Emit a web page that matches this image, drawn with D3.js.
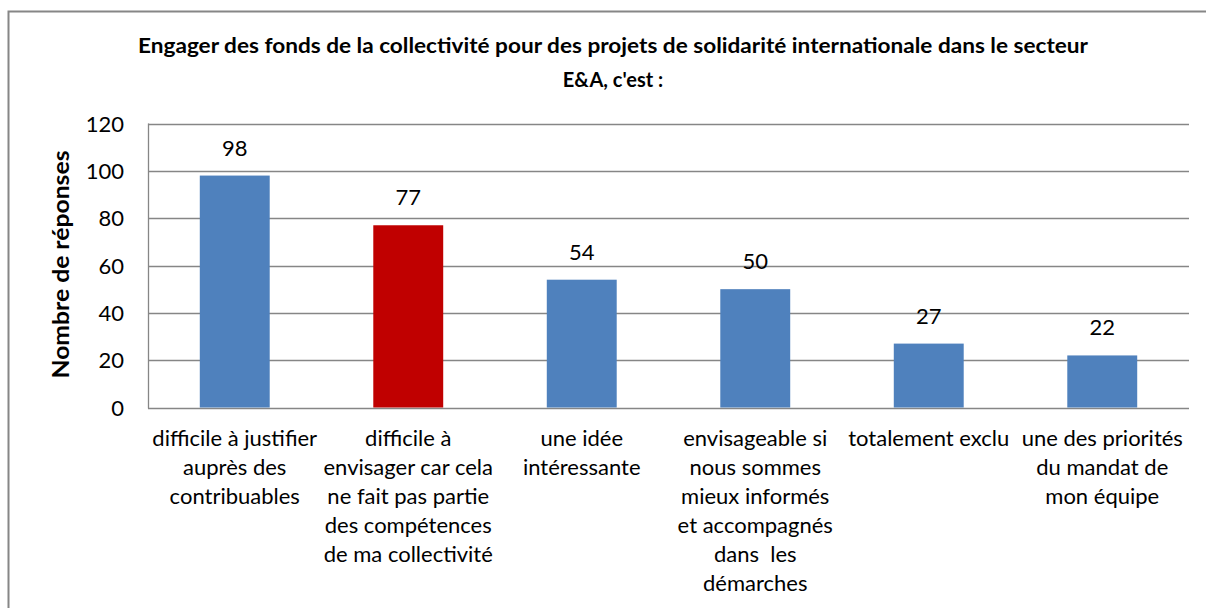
<!DOCTYPE html>
<html lang="fr">
<head>
<meta charset="UTF-8" />
<title>Engager des fonds</title>
<script src="https://d3js.org/d3.v7.min.js"></script>
<style>
    body { margin: 0; background: #fff; }
    svg text { font-family: Lato, "Open Sans", sans-serif; fill: #000; }
</style>
</head>
<body>
<script>
    // data
    var categories = [
        ["difficile à justifier", "auprès des", "contribuables"],
        ["difficile à", "envisager car cela", "ne fait pas partie", "des compétences", "de ma collectivité"],
        ["une idée", "intéressante"],
        ["envisageable si", "nous sommes", "mieux informés", "et accompagnés", "dans  les", "démarches"],
        ["totalement exclu"],
        ["une des priorités", "du mandat de", "mon équipe"]
    ];
    var values = [98, 77, 54, 50, 27, 22];
    var highlight = [false, true, false, false, false, false];
    var yTicks = [0, 20, 40, 60, 80, 100, 120];
    var titleLines = ["Engager des fonds de la collectivité pour des projets de solidarité internationale dans le secteur", "E&A, c'est :"];
    var yLabel = "Nombre de réponses";

    var w = 1206, h = 608;
    var plotLeft = 148, plotRight = 1189, plotTop = 123.5, plotBottom = 407.5;

    var svg = d3.select("body").append("svg")
        .attr("width", w)
        .attr("height", h);

    // outer chart frame (runs off the right and bottom of the picture)
    svg.append("rect")
        .attr("x", 8.5).attr("y", 11.5)
        .attr("width", 1220).attr("height", 620)
        .attr("fill", "none")
        .attr("stroke", "#868686")
        .attr("stroke-width", 2);

    svg.selectAll(".title")
        .data(titleLines)
        .enter()
        .append("text")
        .attr("x", 613)
        .attr("y", function(d, i){ return 53 + i * 34; })
        .attr("text-anchor", "middle")
        .attr("font-size", 20)
        .attr("font-weight", "bold")
        .text(function(d){ return d; })
        .each(function(d, i){
            // squeeze the first line to the reference width
            if (i == 0) d3.select(this).attr("textLength", 950).attr("lengthAdjust", "spacingAndGlyphs");
        });

    var x = d3.scaleBand()
        .domain(d3.range(values.length))
        .range([plotLeft, plotRight]);

    var y = d3.scaleLinear()
        .domain([0, 120])
        .range([plotBottom, plotTop]);

    // gridlines
    svg.selectAll(".grid")
        .data(yTicks)
        .enter()
        .append("line")
        .attr("x1", plotLeft).attr("x2", plotRight)
        .attr("y1", function(d){ return Math.round(y(d)) + 0.5; })
        .attr("y2", function(d){ return Math.round(y(d)) + 0.5; })
        .attr("stroke", "#868686")
        .attr("stroke-width", 1.3);

    // y axis line
    svg.append("line")
        .attr("x1", plotLeft + 0.5).attr("x2", plotLeft + 0.5)
        .attr("y1", y(120)).attr("y2", y(0) + 1)
        .attr("stroke", "#868686")
        .attr("stroke-width", 1.3);

    var yAxis = svg.append("g")
        .attr("transform", "translate(" + plotLeft + ",0)")
        .call(d3.axisLeft(y).tickValues(yTicks).tickSize(0).tickPadding(24));
    yAxis.select(".domain").remove();
    yAxis.selectAll("text")
        .attr("font-size", 22)
        .attr("font-family", "Lato, sans-serif")
        .attr("fill", "#000")
        .attr("dy", "0.35em");

    svg.append("text")
        .attr("transform", "translate(69," + (y(60) - 1) + ") rotate(-90)")
        .attr("text-anchor", "middle")
        .attr("font-size", 22.5)
        .attr("font-weight", "bold")
        .attr("textLength", 228)
        .attr("lengthAdjust", "spacingAndGlyphs")
        .text(yLabel);

    var barW = x.bandwidth() * 0.403;

    svg.selectAll(".bar")
        .data(values)
        .enter()
        .append("rect")
        .attr("x", function(d, i){ return x(i) + (x.bandwidth() - barW) / 2; })
        .attr("y", function(d){ return y(d); })
        .attr("width", barW)
        .attr("height", function(d){ return y(0) - y(d); })
        .attr("fill", function(d, i){ return highlight[i] ? "#C00000" : "#4F81BD"; });

    svg.selectAll(".val")
        .data(values)
        .enter()
        .append("text")
        .attr("x", function(d, i){ return x(i) + x.bandwidth() / 2; })
        .attr("y", function(d){ return y(d) - 20; })
        .attr("text-anchor", "middle")
        .attr("font-size", 22)
        .text(function(d){ return d; });

    // category labels, one text per line
    var cat = svg.selectAll(".cat")
        .data(categories)
        .enter()
        .append("text")
        .attr("text-anchor", "middle")
        .attr("font-size", 22);
    cat.selectAll("tspan")
        .data(function(d, i){ return d.map(function(s){ return {s: s, i: i}; }); })
        .enter()
        .append("tspan")
        .attr("x", function(d){ return x(d.i) + x.bandwidth() / 2; })
        .attr("y", function(d, j){ return 446 + j * 29; })
        .style("white-space", "pre")
        .text(function(d){ return d.s; });
</script>
</body>
</html>
